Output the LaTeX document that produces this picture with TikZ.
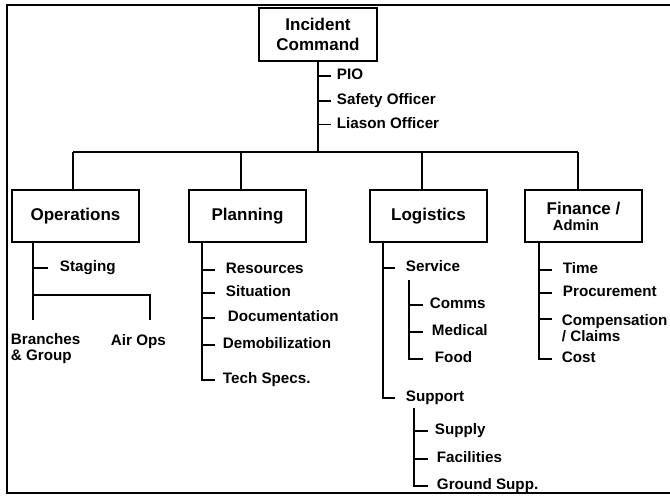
\documentclass[tikz,border=0pt]{standalone}
\usepackage{fontspec}
\setmainfont{Liberation Sans}
\begin{document}
\begin{tikzpicture}[x=1pt,y=-1pt,
  line width=1.9pt,
  unit/.style={draw, line width=1.9pt, inner sep=0pt, align=center,
    font=\fontsize{17}{20}\selectfont\bfseries},
  item/.style={anchor=west, inner sep=0pt, text height=0.716em, text depth=0pt,
    font=\fontsize{15.2}{18}\selectfont\bfseries},
  item2/.style={anchor=north west, inner sep=0pt, align=left,
    font=\fontsize{15.2}{16.5}\selectfont\bfseries}]
\useasboundingbox (0,0) rectangle (670,497);
% frame
\draw[line width=2.5pt] (672,5) -- (7,5) -- (7,493) -- (672,493);

% command
\node[unit, minimum width=118pt, minimum height=53pt] (ic) at (318,34.5) {Incident\\Command};
\node[item] (pio) at (336,76) {PIO};
\node[item] (safety) at (336,101) {Safety Officer};
\node[item] (liason) at (336,124.5) {Liason Officer};
\coordinate (bus) at (318,152);
\draw (ic.south) -- (bus);
\foreach \n in {pio,safety,liason} \draw (ic.south |- \n.west) -- ++(13,0);

% sections
\node[unit, minimum width=127pt, minimum height=52pt] (ops) at (75.5,216) {Operations};
\node[unit, minimum width=117pt, minimum height=52pt] (pln) at (247.5,216) {Planning};
\node[unit, minimum width=117pt, minimum height=52pt] (log) at (428.5,216) {Logistics};
\node[unit, minimum width=117pt, minimum height=52pt, font=\fontsize{17}{16}\selectfont\bfseries] (fin) at (583.5,216)
  {Finance /\\{\fontsize{14.8}{16}\selectfont Admin}\hspace*{15pt}};

\coordinate (d1) at (73,152);
\coordinate (d2) at (241,152);
\coordinate (d3) at (422,152);
\coordinate (d4) at (578,152);
\draw (d1) -- (d4);
\draw (d1) -- (d1 |- ops.north);
\draw (d2) -- (d2 |- pln.north);
\draw (d3) -- (d3 |- log.north);
\draw (d4) -- (d4 |- fin.north);

% operations
\node[item] (staging) at (59,268) {Staging};
\node[item2] (branches) at (10,332.5) {Branches\\\& Group};
\node[item] (airops) at (110,342) {Air Ops};
\coordinate (ops-s) at (33,242);
\coordinate (ops-j) at (33,295);
\coordinate (ops-l) at (33,320);
\coordinate (ops-rj) at (150,295);
\coordinate (ops-r) at (150,320);
\draw (ops-s) -- (ops-l);
\draw (ops-j) -- (ops-rj) -- (ops-r);
\draw (ops-s |- staging.west) -- ++(15,0);

% planning
\node[item] (resources) at (225,270) {Resources};
\node[item] (situation) at (225,293) {Situation};
\node[item] (documentation) at (227,318) {Documentation};
\node[item] (demob) at (222,345) {Demobilization};
\node[item] (tech) at (222,380) {Tech Specs.};
\coordinate (pln-s) at (202,242);
\draw (pln-s) -- (pln-s |- tech.west) -- ++(13,0);
\foreach \n in {resources,situation,documentation,demob} \draw (pln-s |- \n.west) -- ++(13,0);

% logistics
\node[item] (service) at (405,268) {Service};
\node[item] (support) at (405,398) {Support};
\coordinate (log-s) at (383,242);
\draw (log-s) -- (log-s |- support.west) -- ++(12,0);
\draw (log-s |- service.west) -- ++(12,0);

\node[item] (comms) at (429,305) {Comms};
\node[item] (medical) at (431,332) {Medical};
\node[item] (food) at (434,359) {Food};
\coordinate (svc-s) at (409,280);
\draw (svc-s) -- (svc-s |- food.west) -- ++(14,0);
\foreach \n in {comms,medical} \draw (svc-s |- \n.west) -- ++(14,0);

\node[item] (supply) at (434,431) {Supply};
\node[item] (facilities) at (436,459) {Facilities};
\node[item] (ground) at (436,486) {Ground Supp.};
\coordinate (sup-s) at (414,408);
\draw (sup-s) -- (sup-s |- ground.west) -- ++(14,0);
\foreach \n in {supply,facilities} \draw (sup-s |- \n.west) -- ++(14,0);

% finance / admin
\node[item] (time) at (562,270) {Time};
\node[item] (procurement) at (562,293) {Procurement};
\node[item2] (comp) at (561,313.5) {Compensation\\/ Claims};
\node[item] (cost) at (561,359) {Cost};
\coordinate (fin-s) at (539,242);
\coordinate (comp-t) at (539,319);
\draw (fin-s) -- (fin-s |- cost.west) -- ++(13,0);
\foreach \n in {time,procurement} \draw (fin-s |- \n.west) -- ++(13,0);
\draw (comp-t) -- ++(13,0);
\end{tikzpicture}
\end{document}
